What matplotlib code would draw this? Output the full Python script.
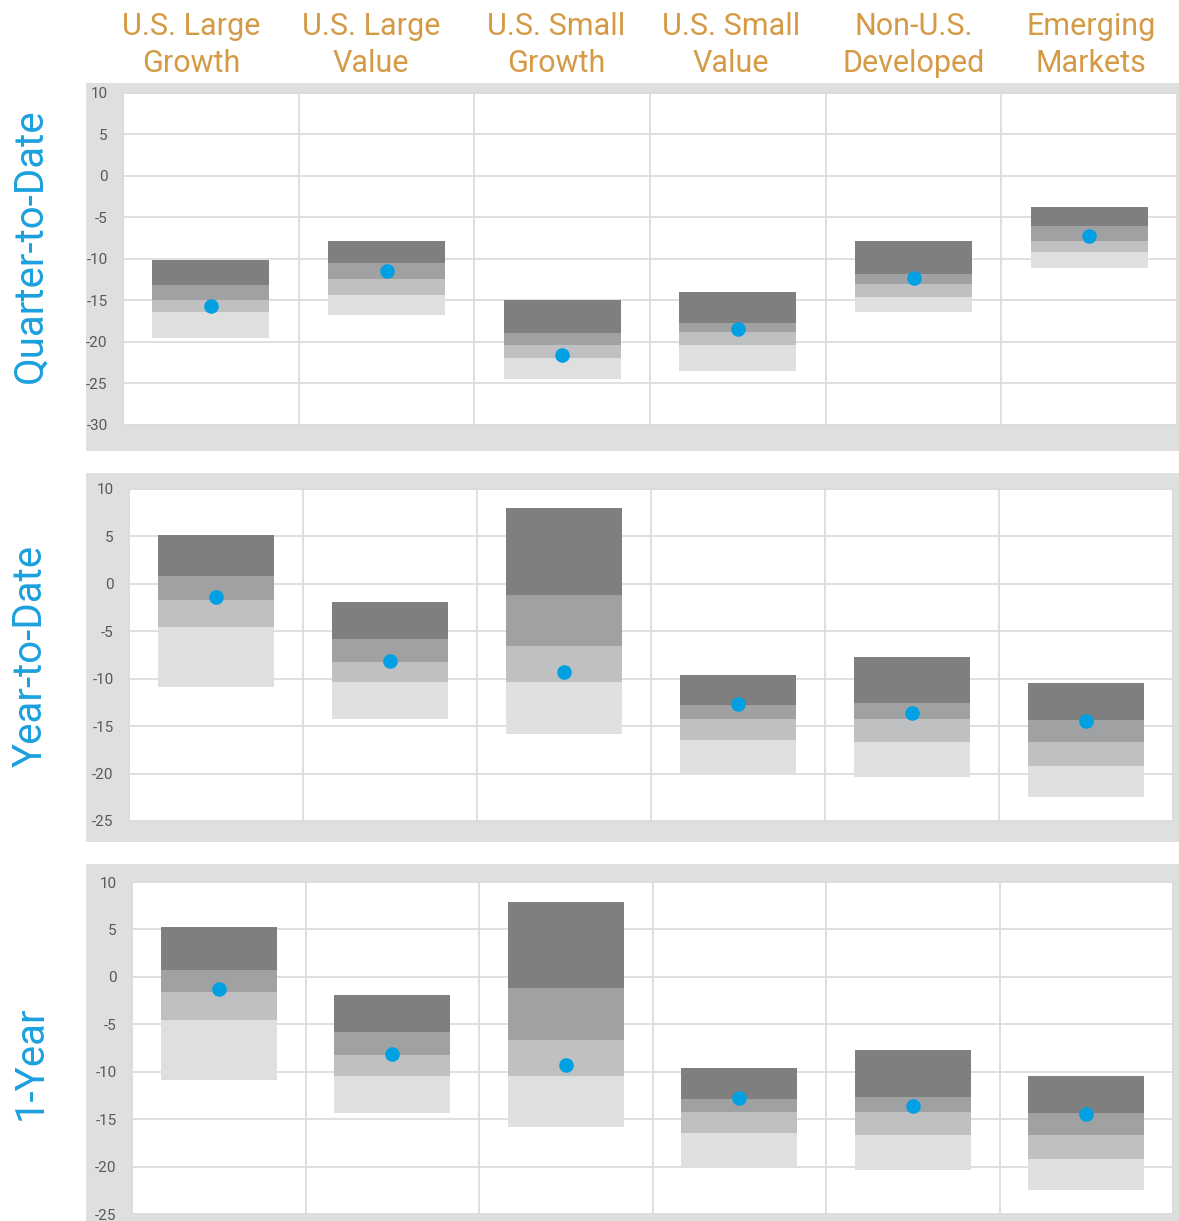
import matplotlib
matplotlib.use("Agg")
import matplotlib.pyplot as plt

plt.rcParams["font.family"] = ["Roboto", "DejaVu Sans"]
plt.rcParams["axes.unicode_minus"] = False

# categories (column headers, two lines each)
categories = ["U.S. Large\nGrowth", "U.S. Large\nValue", "U.S. Small\nGrowth",
              "U.S. Small\nValue", "Non-U.S.\nDeveloped", "Emerging\nMarkets"]
periods = ["Quarter-to-Date", "Year-to-Date", "1-Year"]

# Quarter-to-Date: band edges (top -> bottom) and current value
qtd_p95 = [-10.2, -7.8, -15.0, -14.0, -7.8, -3.7]
qtd_p75 = [-13.2, -10.5, -19.0, -17.8, -11.8, -6.0]
qtd_p50 = [-15.0, -12.4, -20.4, -18.8, -13.0, -7.8]
qtd_p25 = [-16.4, -14.4, -22.0, -20.4, -14.6, -9.2]
qtd_p5 = [-19.6, -16.8, -24.5, -23.6, -16.4, -11.1]
qtd_now = [-15.7, -11.5, -21.6, -18.5, -12.3, -7.2]

# Year-to-Date
ytd_p95 = [5.2, -1.9, 8.0, -9.65, -7.7, -10.5]
ytd_p75 = [0.8, -5.8, -1.2, -12.8, -12.6, -14.4]
ytd_p50 = [-1.7, -8.2, -6.6, -14.2, -14.2, -16.7]
ytd_p25 = [-4.5, -10.35, -10.35, -16.5, -16.7, -19.15]
ytd_p5 = [-10.85, -14.2, -15.8, -19.9, -20.35, -22.5]
ytd_now = [-1.4, -8.1, -9.3, -12.7, -13.6, -14.5]

# 1-Year
y1_p95 = [5.3, -1.9, 7.9, -9.65, -7.75, -10.5]
y1_p75 = [0.7, -5.8, -1.2, -12.85, -12.7, -14.4]
y1_p50 = [-1.6, -8.25, -6.7, -14.25, -14.25, -16.7]
y1_p25 = [-4.6, -10.4, -10.4, -16.5, -16.7, -19.2]
y1_p5 = [-10.9, -14.4, -15.8, -20.0, -20.35, -22.5]
y1_now = [-1.3, -8.15, -9.25, -12.75, -13.65, -14.5]

y_limits = [(-30, 10), (-25, 10), (-25, 10)]

W, H = 1179, 1221
fig = plt.figure(figsize=(W / 100, H / 100), dpi=100)

def px_axes(left, top, right, bottom, **kw):
    return fig.add_axes([left / W, 1 - bottom / H, (right - left) / W, (bottom - top) / H], **kw)

frame_col = "#DEDFDF"
grid_col = "#DCDCDC"
shades = ["#DEDFDF", "#BFC0C2", "#A0A1A3", "#7F7F7F"]  # bottom -> top
dot_col = "#00A0E2"
head_col = "#D49A46"
row_col = "#1BA0DE"

# pixel boxes: gray frame and white plot area
frames = [(86, 83, 1179, 451), (86, 473, 1179, 842), (86, 864, 1179, 1221)]
plots = [(123, 93, 1177, 424.5), (129, 489, 1173, 821), (132, 882, 1173, 1214)]
label_y = [246, 656, 1063]

data = [
    (qtd_p95, qtd_p75, qtd_p50, qtd_p25, qtd_p5, qtd_now),
    (ytd_p95, ytd_p75, ytd_p50, ytd_p25, ytd_p5, ytd_now),
    (y1_p95, y1_p75, y1_p50, y1_p25, y1_p5, y1_now),
]

x = list(range(len(categories)))

for i, (p95, p75, p50, p25, p5, now) in enumerate(data):
    bg = px_axes(*frames[i], zorder=0)
    bg.set_facecolor(frame_col)
    bg.set_xticks([])
    bg.set_yticks([])
    for s in bg.spines.values():
        s.set_visible(False)

    ax = px_axes(*plots[i], zorder=1)
    ax.set_facecolor("white")
    lo, hi = y_limits[i]
    ax.set_ylim(lo, hi)
    ax.set_xlim(-0.5, len(categories) - 0.5)

    # stacked floating bars
    edges = [p5, p25, p50, p75, p95]
    for k in range(4):
        bottoms = edges[k]
        heights = [t - b for t, b in zip(edges[k + 1], edges[k])]
        ax.bar(x, heights, bottom=bottoms, width=0.667, color=shades[k],
               edgecolor="none", zorder=3)
    ax.plot(x, now, "o", color=dot_col, markersize=10.5, markeredgewidth=0, zorder=4)

    ax.set_yticks(range(lo, hi + 1, 5))
    ax.set_xticks([j - 0.5 for j in range(len(categories) + 1)])
    ax.set_xticklabels([])
    ax.grid(True, color=grid_col, linewidth=1.3, zorder=0)
    ax.set_axisbelow(True)
    ax.tick_params(length=0, labelsize=11, labelcolor="#595959", pad=11)
    for s in ax.spines.values():
        s.set_color(grid_col)
        s.set_linewidth(1.3)

    fig.text(30 / W, 1 - label_y[i] / H, periods[i], rotation=90, ha="center",
             va="center", fontsize=29, color=row_col)

# column headers
head_x = [191, 371, 556, 731, 914, 1091]
for cx, name in zip(head_x, categories):
    l1, l2 = name.split("\n")
    fig.text(cx / W, 1 - 35 / H, l1, ha="center", va="baseline", fontsize=22, color=head_col)
    fig.text(cx / W, 1 - 72 / H, l2, ha="center", va="baseline", fontsize=22, color=head_col)

fig.savefig("out.png", dpi=100, facecolor="white")
